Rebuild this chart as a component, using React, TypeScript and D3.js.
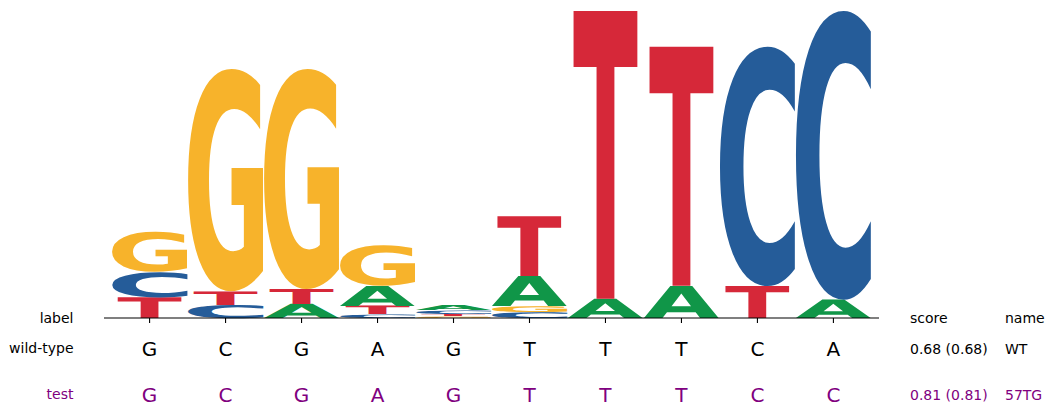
import React, { useMemo } from 'react';
import * as d3 from 'd3';

// ---- data ----
const positions = [0, 1, 2, 3, 4, 5, 6, 7, 8, 9];
const bases = ['A', 'C', 'G', 'T'];
const heightA = [0, 0, 0.091, 0.13, 0.033, 0.195, 0.125, 0.21, 0, 0.12];
const heightC = [0.165, 0.085, 0, 0.026, 0.026, 0.038, 0, 0, 1.559, 1.88];
const heightG = [0.262, 1.447, 1.433, 0.265, 0.01, 0.04, 0, 0, 0, 0];
const heightT = [0.135, 0.09, 0.098, 0.055, 0.016, 0.39, 1.875, 1.557, 0.208, 0];

const wildTypeSeq = ['G', 'C', 'G', 'A', 'G', 'T', 'T', 'T', 'C', 'A'];
const testSeq = ['G', 'C', 'G', 'A', 'G', 'T', 'T', 'T', 'C', 'C'];
const rowLabels = ['wild-type', 'test'];
const scoreLabels = ['0.68 (0.68)', '0.81 (0.81)'];
const nameLabels = ['WT', '57TG'];

// ---- styles ----
const COLORS: Record<string, string> = { A: '#109648', C: '#255C99', G: '#F7B32B', T: '#D62839' };
const WIDTH_FRAC: Record<string, number> = { A: 0.985, C: 0.985, G: 0.985, T: 0.84 };
const ROW_COLORS = ['#000000', '#800080'];
const FONT = '"DejaVu Sans", sans-serif';
const GLYPH_SIZE = 1000;

const W = 1054;
const H = 415;

type Metric = { left: number; top: number; w: number; h: number };

// Measure the exact ink box of each glyph by drawing it on a canvas and scanning pixels
function useGlyphMetrics(): Record<string, Metric> {
  return useMemo(() => {
    const size = 1600;
    const ox = 300;
    const oy = 1200;
    const canvas = document.createElement('canvas');
    canvas.width = size;
    canvas.height = size;
    const ctx = canvas.getContext('2d', { willReadFrequently: true } as any)! as CanvasRenderingContext2D;
    const out: Record<string, Metric> = {};
    for (const b of bases) {
      ctx.clearRect(0, 0, size, size);
      ctx.font = `bold ${GLYPH_SIZE}px "DejaVu Sans"`;
      ctx.fillStyle = '#000';
      ctx.textBaseline = 'alphabetic';
      ctx.fillText(b, ox, oy);
      const data = ctx.getImageData(0, 0, size, size).data;
      let minX = size, minY = size, maxX = -1, maxY = -1;
      for (let yy = 0; yy < size; yy++) {
        const row = yy * size * 4;
        for (let xx = 0; xx < size; xx++) {
          if (data[row + xx * 4 + 3] > 127) {
            if (xx < minX) minX = xx;
            if (xx > maxX) maxX = xx;
            if (yy < minY) minY = yy;
            if (yy > maxY) maxY = yy;
          }
        }
      }
      if (maxX < 0) {
        const m = ctx.measureText(b);
        out[b] = {
          left: -m.actualBoundingBoxLeft,
          top: -m.actualBoundingBoxAscent,
          w: m.actualBoundingBoxLeft + m.actualBoundingBoxRight,
          h: m.actualBoundingBoxAscent + m.actualBoundingBoxDescent,
        };
      } else {
        out[b] = { left: minX - ox, top: minY - oy, w: maxX + 1 - minX, h: maxY + 1 - minY };
      }
    }
    return out;
  }, []);
}

export default function App() {
  const metrics = useGlyphMetrics();
  const x = d3.scaleLinear().domain([-0.6, 9.6]).range([104, 879]);
  const y = d3.scaleLinear().domain([0, 2]).range([318, 11]);
  const unit = x(1) - x(0);

  const heights: Record<string, number[]> = { A: heightA, C: heightC, G: heightG, T: heightT };

  const glyphs: JSX.Element[] = [];
  positions.forEach((p, i) => {
    const col = bases
      .map((b) => ({ b, v: heights[b][i] }))
      .filter((d) => d.v > 0)
      .sort((a, b) => a.v - b.v);
    let floor = 0;
    col.forEach((d) => {
      const ceil = floor + d.v;
      const m = metrics[d.b];
      const w = unit * WIDTH_FRAC[d.b];
      const x0 = x(p) - w / 2;
      const y0 = y(ceil);
      const y1 = y(floor);
      const sx = w / m.w;
      const sy = (y1 - y0) / m.h;
      glyphs.push(
        <text
          key={`${i}-${d.b}`}
          transform={`translate(${x0 - m.left * sx},${y0 - m.top * sy}) scale(${sx},${sy})`}
          fontSize={GLYPH_SIZE}
          fontFamily={FONT}
          fontWeight="bold"
          fill={COLORS[d.b]}
          textRendering="geometricPrecision"
        >
          {d.b}
        </text>
      );
      floor = ceil;
    });
  });

  const seqs = [wildTypeSeq, testSeq];
  const rowBaselines = [355.5, 401.5];
  const labelBaselines = [353.3, 399];

  return (
    <svg
      width={W}
      height={H}
      style={{ position: 'absolute', left: 0, top: 0, background: '#fff' }}
      fontFamily={FONT}
    >
      <rect x={0} y={0} width={W} height={H} fill="#fff" />
      {glyphs}
      <line x1={x(-0.6)} x2={x(9.6)} y1={318} y2={318} stroke="#000" strokeWidth={1.1} />
      {positions.map((p) => (
        <line key={p} x1={x(p)} x2={x(p)} y1={318} y2={323} stroke="#000" strokeWidth={1.1} />
      ))}
      <text x={73.5} y={322.5} fontSize={14} textAnchor="end" fill="#000">label</text>
      <text x={910} y={322.5} fontSize={14} fill="#000">score</text>
      <text x={1005} y={322.5} fontSize={14} fill="#000">name</text>
      {seqs.map((seq, r) => (
        <g key={r} fill={ROW_COLORS[r]}>
          <text x={73.5} y={labelBaselines[r]} fontSize={14} textAnchor="end">{rowLabels[r]}</text>
          {seq.map((c, i) => (
            <text key={i} x={x(positions[i])} y={rowBaselines[r]} fontSize={20} textAnchor="middle">{c}</text>
          ))}
          <text x={910} y={labelBaselines[r] + 0.7} fontSize={14}>{scoreLabels[r]}</text>
          <text x={1005} y={labelBaselines[r] + 0.7} fontSize={14}>{nameLabels[r]}</text>
        </g>
      ))}
    </svg>
  );
}
